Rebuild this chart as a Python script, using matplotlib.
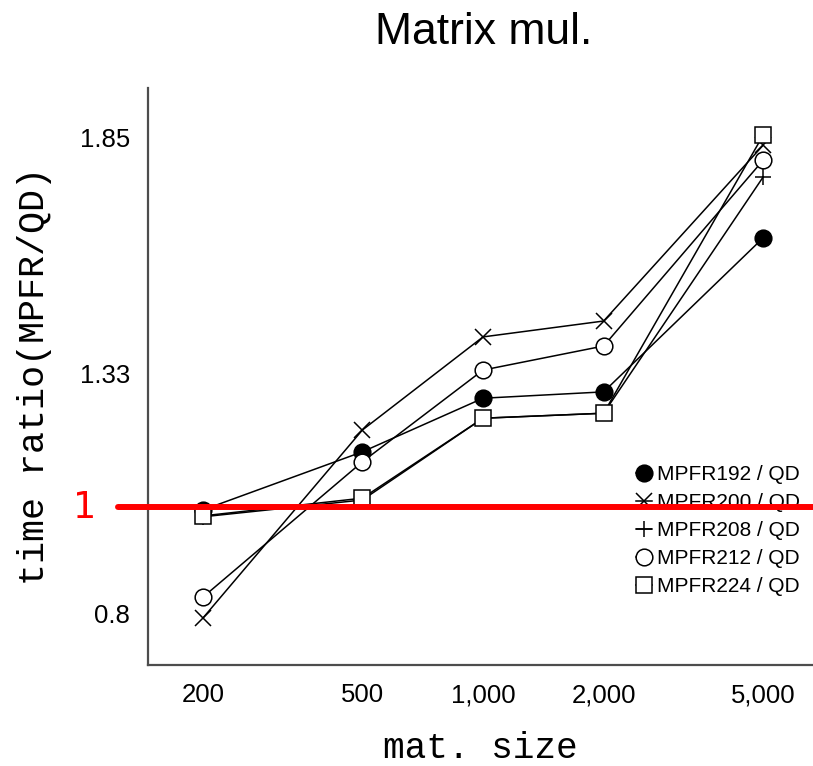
import matplotlib
matplotlib.use("Agg")
import matplotlib.pyplot as plt
import matplotlib.transforms as mtransforms

# data
sizes = [200, 500, 1000, 2000, 5000]
size_labels = ["200", "500", "1,000", "2,000", "5,000"]
mpfr192 = [1.029, 1.157, 1.275, 1.289, 1.628]
mpfr200 = [0.791, 1.205, 1.410, 1.445, 1.832]
mpfr208 = [1.014, 1.051, 1.231, 1.242, 1.762]
mpfr212 = [0.837, 1.135, 1.337, 1.390, 1.799]
mpfr224 = [1.016, 1.055, 1.231, 1.242, 1.854]
y_ticks = [0.8, 1.33, 1.85]
y_tick_labels = ["0.8", "1.33", "1.85"]
ref_level = 1.035

W, H = 813, 766
fig = plt.figure(figsize=(W / 100, H / 100), dpi=100)
ax = fig.add_axes([148 / W, 1 - 665 / H, 665 / W, 577 / H])

series = [
    (mpfr192, "o", "black", "MPFR192 / QD"),
    (mpfr200, "x", "none", "MPFR200 / QD"),
    (mpfr208, "+", "none", "MPFR208 / QD"),
    (mpfr212, "o", "white", "MPFR212 / QD"),
    (mpfr224, "s", "white", "MPFR224 / QD"),
]
for vals, mk, fc, lab in series:
    ms = 12 if mk in ("o", "s") else 11
    ax.plot(sizes, vals, color="black", lw=1.1, marker=mk, ms=ms,
            mfc=fc, mec="black", mew=1.1, label=lab)

ax.set_xscale("log")
ax.set_xlim(145.9, 6659)
ax.set_ylim(0.6877, 1.958)
ax.set_xticks(sizes)
ax.set_xticklabels(size_labels)
ax.minorticks_off()
ax.set_yticks(y_ticks)
ax.set_yticklabels(y_tick_labels)
ax.tick_params(length=0, labelsize=18.5, pad=13)
for t in ax.get_xticklabels() + ax.get_yticklabels():
    t.set_family("Liberation Sans")

for s in ["top", "right"]:
    ax.spines[s].set_visible(False)
for s in ["left", "bottom"]:
    ax.spines[s].set_color("#4d4d4d")
    ax.spines[s].set_linewidth(1.6)

ax.set_xlabel("mat. size", family="Liberation Mono", fontsize=26, va="center")
ax.xaxis.set_label_coords(0.5, -0.144)
ax.set_ylabel("time ratio(MPFR/QD)", family="Liberation Mono", fontsize=26.5, va="center")
ax.yaxis.set_label_coords(-0.17, 0.5)

fig.text(484 / W, 1 - 33 / H, "Matrix mul.", family="Liberation Sans",
         fontsize=32, ha="center", va="center")

leg = ax.legend(loc="upper right", bbox_to_anchor=(810 / W, 1 - 455 / H),
                bbox_transform=fig.transFigure, frameon=False, borderpad=0,
                numpoints=1, handlelength=0.8, handletextpad=0.2,
                labelspacing=0.43, prop={"family": "Liberation Sans", "size": 15})

# red reference line
ax.axhline(ref_level, xmin=-0.045, xmax=1, color="red", lw=4.3,
           clip_on=False, zorder=10, solid_capstyle="round")
trans = mtransforms.blended_transform_factory(ax.transAxes, ax.transData)
ax.text(-0.0947, ref_level, "1", color="red", fontsize=26.5, ha="center",
        va="center", transform=trans, family="DejaVu Sans")

fig.savefig("out.png", dpi=100)
